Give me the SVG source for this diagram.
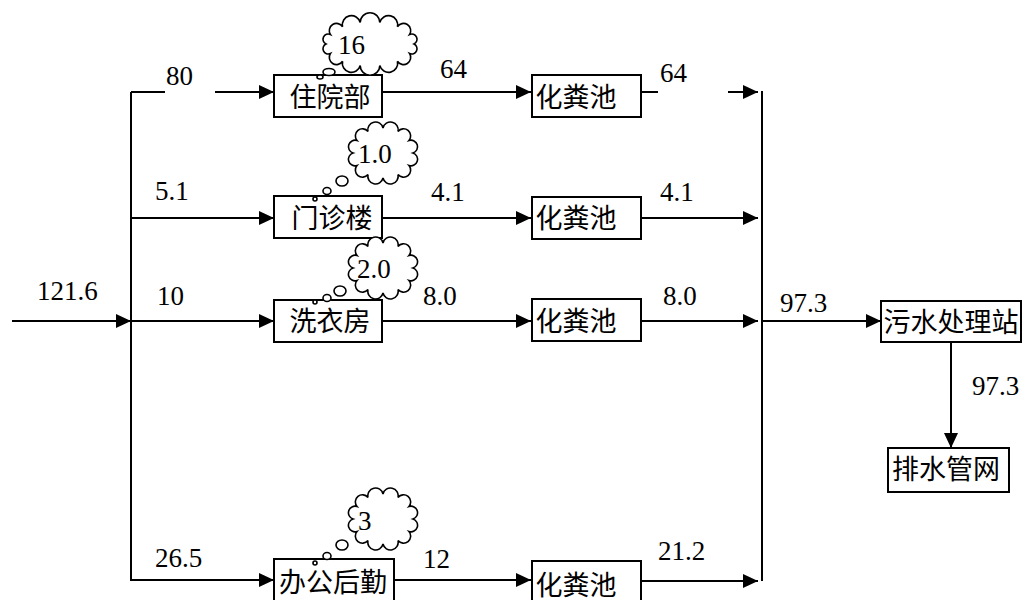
<svg xmlns="http://www.w3.org/2000/svg" xmlns:xlink="http://www.w3.org/1999/xlink" width="1024" height="600" viewBox="0 0 1024 600">
<style>
.ln{fill:none;stroke:#000;stroke-width:2}
.bx{fill:#fff;stroke:#000;stroke-width:2}
.cl{fill:#fff;stroke:#000;stroke-width:1.6}
.cjk{text-anchor:middle;dominant-baseline:central}
</style>
<defs>
<marker id="ah" markerUnits="userSpaceOnUse" markerWidth="15" markerHeight="14" refX="15" refY="7" orient="auto">
<path d="M0,0 L15,7 L0,14 z" fill="#000"/>
</marker>
<path id="cloudS" class="cl" d="M30,0 A1,1 0 0 1 26,12.5 A1,1 0 0 1 15,21.6 A1,1 0 0 1 0,25 A1,1 0 0 1 -15,21.6 A1,1 0 0 1 -26,12.5 A1,1 0 0 1 -30,0 A1,1 0 0 1 -26,-12.5 A1,1 0 0 1 -15,-21.6 A1,1 0 0 1 0,-25 A1,1 0 0 1 15,-21.6 A1,1 0 0 1 26,-12.5 A1,1 0 0 1 30,0 z"/>
<path id="cloudL" class="cl" d="M44,0 A1,1 0 0 1 39.6,9.5 A1,1 0 0 1 27.4,17.2 A1,1 0 0 1 9.8,21.4 A1,1 0 0 1 -9.8,21.4 A1,1 0 0 1 -27.4,17.2 A1,1 0 0 1 -39.6,9.5 A1,1 0 0 1 -44,0 A1,1 0 0 1 -39.6,-9.5 A1,1 0 0 1 -27.4,-17.2 A1,1 0 0 1 -9.8,-21.4 A1,1 0 0 1 9.8,-21.4 A1,1 0 0 1 27.4,-17.2 A1,1 0 0 1 39.6,-9.5 A1,1 0 0 1 44,0 z"/>
</defs>
<rect width="1024" height="600" fill="#fff"/>

<g id="connectors">
<path class="ln" d="M12,321 H131" marker-end="url(#ah)"/>
<path class="ln" d="M131,92 V581"/>
<path class="ln" d="M131,92 H165"/>
<path class="ln" d="M215,92 H274" marker-end="url(#ah)"/>
<path class="ln" d="M131,218 H274" marker-end="url(#ah)"/>
<path class="ln" d="M131,321 H274" marker-end="url(#ah)"/>
<path class="ln" d="M131,580 H274" marker-end="url(#ah)"/>
<path class="ln" d="M382,92 H531" marker-end="url(#ah)"/>
<path class="ln" d="M382,218 H531" marker-end="url(#ah)"/>
<path class="ln" d="M382,321 H531" marker-end="url(#ah)"/>
<path class="ln" d="M394,580 H531" marker-end="url(#ah)"/>
<path class="ln" d="M641,92 H658"/>
<path class="ln" d="M728,92 H758" marker-end="url(#ah)"/>
<path class="ln" d="M641,218 H758" marker-end="url(#ah)"/>
<path class="ln" d="M641,321 H758" marker-end="url(#ah)"/>
<path class="ln" d="M641,581 H758" marker-end="url(#ah)"/>
<path class="ln" d="M762,91 V581"/>
<path class="ln" d="M762,321 H881" marker-end="url(#ah)"/>
<path class="ln" d="M951,342 V448" marker-end="url(#ah)"/>
</g>

<g id="labels" font-family="'Liberation Serif', 'Times New Roman', serif" font-size="27" fill="#000">
<text x="37" y="300">121.6</text>
<text x="166" y="85">80</text>
<text x="155" y="200">5.1</text>
<text x="157" y="305">10</text>
<text x="155" y="567">26.5</text>
<text x="440" y="78">64</text>
<text x="431" y="201">4.1</text>
<text x="423" y="305">8.0</text>
<text x="423" y="568">12</text>
<text x="660" y="82">64</text>
<text x="660" y="201">4.1</text>
<text x="663" y="305">8.0</text>
<text x="658" y="560">21.2</text>
<text x="780" y="312">97.3</text>
<text x="972" y="395">97.3</text>
</g>

<g id="node-zhuyuanbu" font-family="'Liberation Serif', 'Noto Sans CJK SC', sans-serif" font-size="27">
<rect class="bx" x="274" y="75" width="108" height="42"/>
<text class="cjk" x="330" y="98">住院部</text>
</g>
<g id="cloud-zhuyuanbu" font-family="'Liberation Serif', serif" font-size="27">
<use xlink:href="#cloudL" x="370" y="44"/>
<ellipse class="cl" cx="320" cy="77" rx="3" ry="2"/>
<ellipse class="cl" cx="329" cy="72" rx="6" ry="3.5"/>
<text x="338" y="54">16</text>
</g>

<g id="node-menzhenlou" font-family="'Liberation Serif', 'Noto Sans CJK SC', sans-serif" font-size="27">
<rect class="bx" x="274" y="196" width="108" height="42"/>
<text class="cjk" x="332" y="219">门诊楼</text>
</g>
<g id="cloud-menzhenlou" font-family="'Liberation Serif', serif" font-size="27">
<use xlink:href="#cloudS" x="383" y="153"/>
<circle class="cl" cx="315" cy="199" r="2"/>
<ellipse class="cl" cx="327" cy="191" rx="4" ry="3.5"/>
<ellipse class="cl" cx="342" cy="181" rx="6" ry="5"/>
<text x="358" y="163">1.0</text>
</g>

<g id="node-xiyifang" font-family="'Liberation Serif', 'Noto Sans CJK SC', sans-serif" font-size="27">
<rect class="bx" x="274" y="300" width="108" height="42"/>
<text class="cjk" x="330" y="322">洗衣房</text>
</g>
<g id="cloud-xiyifang" font-family="'Liberation Serif', serif" font-size="27">
<use xlink:href="#cloudS" x="383" y="268"/>
<circle class="cl" cx="315" cy="302" r="2"/>
<ellipse class="cl" cx="327" cy="298" rx="4" ry="3.5"/>
<ellipse class="cl" cx="340" cy="291" rx="6" ry="5"/>
<text x="357" y="278">2.0</text>
</g>

<g id="node-bangonghouqin" font-family="'Liberation Serif', 'Noto Sans CJK SC', sans-serif" font-size="27">
<rect class="bx" x="274" y="559" width="120" height="42"/>
<text class="cjk" x="333" y="583">办公后勤</text>
</g>
<g id="cloud-bangonghouqin" font-family="'Liberation Serif', serif" font-size="27">
<use xlink:href="#cloudS" x="383" y="519"/>
<circle class="cl" cx="315" cy="563" r="2"/>
<ellipse class="cl" cx="327" cy="556" rx="4" ry="3.5"/>
<ellipse class="cl" cx="342" cy="545" rx="6" ry="5"/>
<text x="358" y="530">3</text>
</g>

<g id="node-huafenchi1" font-family="'Liberation Serif', 'Noto Sans CJK SC', sans-serif" font-size="27">
<rect class="bx" x="532" y="75" width="109" height="42"/>
<text class="cjk" x="576" y="98">化粪池</text>
</g>
<g id="node-huafenchi2" font-family="'Liberation Serif', 'Noto Sans CJK SC', sans-serif" font-size="27">
<rect class="bx" x="532" y="197" width="109" height="42"/>
<text class="cjk" x="576" y="219">化粪池</text>
</g>
<g id="node-huafenchi3" font-family="'Liberation Serif', 'Noto Sans CJK SC', sans-serif" font-size="27">
<rect class="bx" x="532" y="299" width="109" height="42"/>
<text class="cjk" x="576" y="322">化粪池</text>
</g>
<g id="node-huafenchi4" font-family="'Liberation Serif', 'Noto Sans CJK SC', sans-serif" font-size="27">
<rect class="bx" x="532" y="561" width="109" height="42"/>
<text class="cjk" x="576" y="586">化粪池</text>
</g>

<g id="node-wushuichulizhan" font-family="'Liberation Serif', 'Noto Sans CJK SC', sans-serif" font-size="27">
<rect class="bx" x="881" y="301" width="140" height="41"/>
<text class="cjk" x="951" y="323">污水处理站</text>
</g>
<g id="node-paishuiguanwang" font-family="'Liberation Serif', 'Noto Sans CJK SC', sans-serif" font-size="27">
<rect class="bx" x="888" y="448" width="121" height="44"/>
<text class="cjk" x="946" y="470">排水管网</text>
</g>
</svg>
